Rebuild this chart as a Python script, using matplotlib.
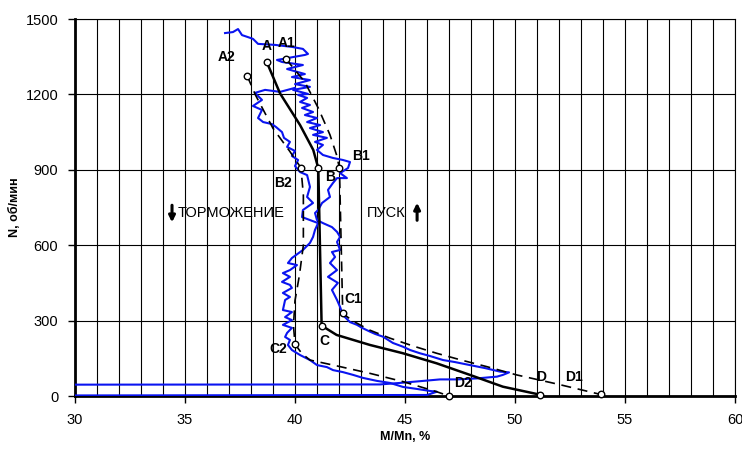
import numpy as np
import matplotlib
matplotlib.use("Agg")
import matplotlib.pyplot as plt

plt.rcParams['font.family'] = ['Liberation Sans', 'DejaVu Sans']

# --- data ---
x_ticks = [30, 35, 40, 45, 50, 55, 60]
y_ticks = [0, 300, 600, 900, 1200, 1500]

# solid characteristic A-B-C-D
abcd_m = [38.71, 39.32, 40.23, 40.83, 41.06, 41.21, 41.89, 43.41, 44.91, 46.44, 47.95, 49.45, 51.15]
abcd_n = [1330, 1204, 1078, 979, 906, 280, 243, 203, 170, 130, 84, 37, 5]

# dashed A1-B1-C1-D1 (start-up)
abcd1_m = [39.58, 40.45, 41.06, 41.59, 41.89, 42.02, 42.17, 42.6, 43.4, 44.32, 45.4, 46.44,
           47.6, 48.71, 50.07, 51.9, 53.9]
abcd1_n = [1342, 1249, 1145, 1039, 959, 906, 329, 300, 262, 230, 198, 170,
           142, 117, 84, 48, 6]

# dashed A2-B2-C2-D2 (braking)
abcd2_m = [37.83, 38.2, 39.0, 39.75, 40.27, 40.38, 40.38, 40.2, 40.0, 39.93, 40.0,
           40.3, 40.68, 41.89, 43.41, 44.92, 46.44, 47.0]
abcd2_n = [1273, 1198, 1065, 975, 908, 800, 600, 480, 380, 280, 207,
           170, 143, 120, 90, 57, 17, 0]

# points with their labels
pt_names = ['A', 'B', 'C', 'D', 'A1', 'B1', 'C1', 'D1', 'A2', 'B2', 'C2', 'D2']
pt_m = [38.71, 41.06, 41.21, 51.15, 39.58, 42.02, 42.17, 53.9, 37.83, 40.27, 40.0, 47.0]
pt_n = [1330, 906, 280, 5, 1342, 906, 329, 6, 1273, 908, 207, 0]
lbl_m = [38.71, 41.59, 41.32, 51.18, 39.62, 42.99, 42.65, 52.7, 36.9, 39.47, 39.24, 47.62]
lbl_n = [1393, 873, 220, 77, 1406, 955, 385, 77, 1349, 849, 186, 50]

# measured trace, start-up part
run_m = [28.0, 43.86, 44.77, 45.82, 46.59, 47.36, 48.27, 49.18, 49.45, 49.73, 49.32,
         48.64, 47.95, 47.27, 46.73, 46.14, 45.68, 45.23, 44.91, 44.45, 44.0, 43.64,
         43.41, 43.05, 42.82, 42.5, 42.18, 42.05, 41.91, 41.68, 41.95, 41.5, 41.91,
         41.59, 41.82, 41.68, 42.05, 41.91, 42.05, 41.91, 41.68, 41.27, 41.0, 40.91,
         41.05, 41.23, 41.59, 41.5, 41.73, 41.91, 42.36, 42.05, 42.41, 42.5, 42.18,
         41.73, 41.27, 41.0, 41.27, 40.91, 41.45, 40.82, 41.27, 40.68, 41.14, 40.55,
         41.0, 40.45, 40.82, 40.32, 40.68, 40.23, 40.55, 40.14, 40.59, 39.91, 40.68,
         40.0, 40.68, 39.86, 40.45, 39.64, 40.36, 39.41, 39.18, 40.45, 40.59, 40.36,
         39.86, 39.09, 38.32, 38.09, 37.86, 37.59, 37.41, 37.18, 36.82]
run_n = [45, 46, 52, 60, 66, 66, 70, 77, 84, 94, 97,
         111, 123, 135, 143, 159, 170, 183, 196, 211, 236, 247,
         256, 271, 283, 294, 322, 354, 382, 422, 450, 474, 501,
         529, 553, 573, 581, 613, 633, 653, 672, 688, 700, 728,
         740, 768, 792, 820, 848, 867, 867, 887, 907, 931, 939,
         947, 959, 979, 999, 1011, 1027, 1039, 1050, 1066, 1078, 1090,
         1106, 1118, 1130, 1146, 1158, 1170, 1186, 1198, 1202, 1218, 1230,
         1241, 1257, 1269, 1281, 1301, 1317, 1329, 1337, 1357, 1361, 1381,
         1389, 1397, 1401, 1421, 1428, 1436, 1460, 1448, 1444]

# measured trace, braking part
brk_m = [40.0, 39.32, 38.64, 38.18, 38.5, 38.09, 38.5, 38.32, 38.55, 38.95, 39.14,
         39.41, 39.5, 39.77, 39.64, 40.0, 39.86, 40.14, 40.0, 40.23, 40.55, 40.68,
         40.55, 40.82, 40.36, 40.32, 40.68, 41.05, 40.91, 40.82, 40.68, 40.36, 39.86,
         39.68, 40.09, 39.77, 39.45, 39.77, 39.41, 39.77, 39.86, 39.45, 39.77, 39.55,
         39.45, 39.86, 39.55, 39.86, 39.45, 39.86, 39.64, 39.55, 39.77, 39.68, 39.86,
         40.23, 40.68, 41.0, 41.45, 41.73, 42.18, 42.64, 43.09, 43.73, 44.32, 44.91,
         45.55, 46.14, 46.45, 46.0, 28.0]
brk_n = [1226, 1210, 1218, 1206, 1178, 1154, 1138, 1106, 1090, 1082, 1070,
         1050, 1027, 1011, 991, 975, 955, 939, 915, 891, 879, 832,
         792, 768, 740, 712, 700, 688, 661, 633, 609, 581, 549,
         529, 521, 501, 489, 474, 454, 442, 430, 410, 394, 382,
         342, 334, 314, 302, 283, 271, 251, 235, 223, 203, 183,
         163, 143, 123, 115, 103, 95, 84, 72, 60, 52, 36,
         28, 20, 17, 4, 2]

fig = plt.figure(figsize=(7.42, 4.49), dpi=100)
ax = fig.add_axes([75 / 742, 53 / 449, 660 / 742, 377 / 449])

ax.set_xlim(30, 60)
ax.set_ylim(0, 1500)
ax.set_xticks(x_ticks)
ax.set_yticks(y_ticks)
ax.set_xticks(np.arange(30, 61, 1), minor=True)
ax.grid(True, which='both', axis='x', color='black', lw=0.8)
ax.grid(True, which='major', axis='y', color='black', lw=0.8)
ax.tick_params(axis='x', which='minor', length=0)
ax.tick_params(axis='both', which='major', direction='out', length=5, width=1,
               labelsize=10.5, pad=7)
for s in ['left', 'bottom']:
    ax.spines[s].set_linewidth(2)
for s in ['top', 'right']:
    ax.spines[s].set_linewidth(0.8)

# measured trace
ax.plot(run_m, run_n, color='#0a14f0', lw=1.5, zorder=3)
ax.plot(brk_m, brk_n, color='#0a14f0', lw=1.5, zorder=3)

# characteristics
ax.plot(abcd_m, abcd_n, color='black', lw=1.8, zorder=4)
ax.plot(abcd1_m, abcd1_n, color='black', lw=1.2, dashes=(6, 4), zorder=4)
ax.plot(abcd2_m, abcd2_n, color='black', lw=1.2, dashes=(6, 4), zorder=4)
ax.scatter(pt_m, pt_n, s=22, facecolors='white', edgecolors='black',
           linewidths=1, zorder=5, clip_on=False)
for name, lx, ly in zip(pt_names, lbl_m, lbl_n):
    ax.text(lx, ly, name, ha='center', va='center', fontsize=10,
            fontweight='bold', zorder=6)

# mode labels
ax.annotate('', xy=(34.41, 680), xytext=(34.41, 770),
            arrowprops=dict(arrowstyle='-|>', color='black', lw=2.2,
                            mutation_scale=9))
ax.text(34.65, 730, 'ТОРМОЖЕНИЕ', ha='left', va='center', fontsize=10.5)
ax.text(44.15, 730, 'ПУСК', ha='center', va='center', fontsize=10.5)
ax.annotate('', xy=(45.55, 780), xytext=(45.55, 688),
            arrowprops=dict(arrowstyle='-|>', color='black', lw=2.2,
                            mutation_scale=9))

ax.set_xlabel('M/Mn, %', fontsize=9, fontweight='bold', labelpad=3)
ax.set_ylabel('N, об/мин', fontsize=9, fontweight='bold', labelpad=3)

fig.savefig('out.png', dpi=100)
